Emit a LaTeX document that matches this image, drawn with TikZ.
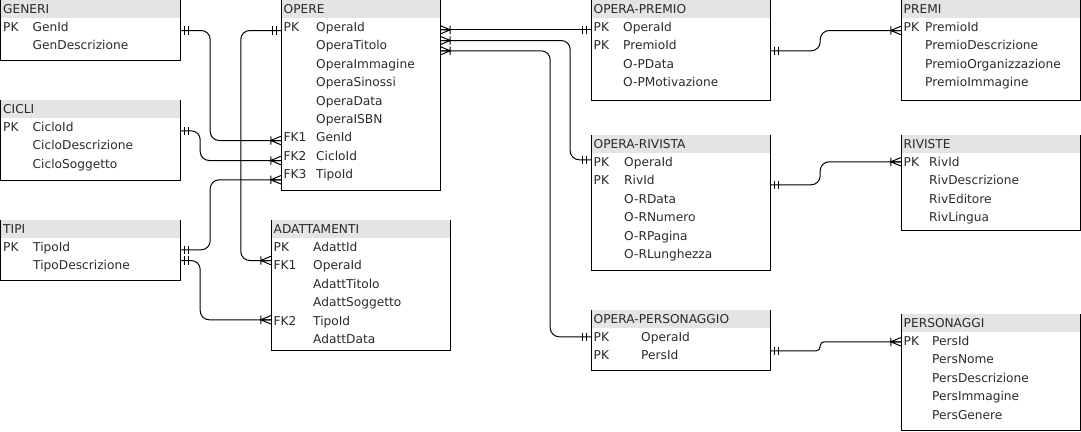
\documentclass[tikz,border=0pt]{standalone}
\usepackage{fontspec}
\setmainfont{DejaVu Sans}
\usetikzlibrary{calc,fit}
\definecolor{hdr}{HTML}{E4E4E4}
\definecolor{txt}{HTML}{2A2A2A}
\tikzset{
  tabline/.style={line width=1pt, draw=black},
  conn/.style={line width=1pt, draw=black},
  rowtext/.style={anchor=west, inner sep=0pt, text height=8.9pt, text depth=0pt, text=txt,
     font=\fontsize{12.2}{14}\selectfont},
  mone/.pic={\draw[conn] (4,-4.2)--(4,4.2) (8,-4.2)--(8,4.2);},
  mmany/.pic={\draw[conn] (10,-4.2)--(10,4.2) (0,-4.2)--(10,0)--(0,4.2) (0,0)--(10,0);},
}
% #1 name, #2 left, #3 top, #4 right, #5 bottom, #6 title, #7 field offset, #8 rows
\newcommand{\ertab}[8]{%
  \path (#2,#3) coordinate (#1-nw) (#4,#5) coordinate (#1-se);
  \node[fit=(#1-nw)(#1-se), inner sep=0pt] (#1) {};
  \fill[hdr] (#1-nw) rectangle ($(#1-nw -| #1-se)+(0,18)$);
  \draw[tabline] (#1-nw) |- (#1-se) -- (#1-nw -| #1-se);
  \node[rowtext] (#1-h) at ($(#1-nw)+(2.5,9)$) {#6};
  \foreach \k/\f [count=\i from 0] in {#8} {
    \node[rowtext] (#1-k\i) at ($(#1-nw)+(2.5,{27+18.4*\i})$) {\k};
    \node[rowtext] (#1-f\i) at ($(#1-nw)+(#7,{27+18.4*\i})$) {\f};
  }
}
\begin{document}
\begin{tikzpicture}[x=1pt,y=-1pt]
\useasboundingbox (0,0) rectangle (1081,431);
\ertab{generi}{0.5}{0}{180}{60}{GENERI}{32}{PK/GenId, /GenDescrizione}
\ertab{cicli}{0.5}{100}{180}{180}{CICLI}{32}{PK/CicloId, /CicloDescrizione, /CicloSoggetto}
\ertab{tipi}{0.5}{220}{180}{280}{TIPI}{32.5}{PK/TipoId, /TipoDescrizione}
\ertab{opere}{281}{0}{440}{190}{OPERE}{35}{PK/OperaId, /OperaTitolo, /OperaImmagine, /OperaSinossi, /OperaData, /OperaISBN, FK1/GenId, FK2/CicloId, FK3/TipoId}
\ertab{adatt}{271}{220}{450}{350}{ADATTAMENTI}{42}{PK/AdattId, FK1/OperaId, /AdattTitolo, /AdattSoggetto, FK2/TipoId, /AdattData}
\ertab{opremio}{591}{0}{770}{100}{OPERA-PREMIO}{32}{PK/OperaId, PK/PremioId, /O-PData, /O-PMotivazione}
\ertab{oriv}{591}{135}{770}{270}{OPERA-RIVISTA}{33}{PK/OperaId, PK/RivId, /O-RData, /O-RNumero, /O-RPagina, /O-RLunghezza}
\ertab{opers}{591}{310}{770}{370}{OPERA-PERSONAGGIO}{50}{PK/OperaId, PK/PersId}
\ertab{premi}{901}{0}{1080.5}{100}{PREMI}{24}{PK/PremioId, /PremioDescrizione, /PremioOrganizzazione, /PremioImmagine}
\ertab{riviste}{901}{135}{1080.5}{230}{RIVISTE}{28}{PK/RivId, /RivDescrizione, /RivEditore, /RivLingua}
\ertab{pers}{901}{314}{1080.5}{430}{PERSONAGGI}{31}{PK/PersId, /PersNome, /PersDescrizione, /PersImmagine, /PersGenere}
% endpoints
\coordinate (c1a) at ($(generi.north east)+(0,30.7)$);
\coordinate (c1b) at ($(opere.north west)+(0,140.7)$);
\coordinate (c2a) at ($(cicli.north east)+(0,31)$);
\coordinate (c2b) at ($(opere.north west)+(0,160.7)$);
\coordinate (c3a) at ($(tipi.north east)+(0,30)$);
\coordinate (c3b) at ($(opere.north west)+(0,180)$);
\coordinate (c4a) at ($(tipi.north east)+(0,40.7)$);
\coordinate (c4b) at ($(adatt.north west)+(0,100)$);
\coordinate (c5a) at ($(opere.north west)+(0,30.7)$);
\coordinate (c5b) at ($(adatt.north west)+(0,40.7)$);
\coordinate (c6a) at ($(opere.north east)+(0,30)$);
\coordinate (c6b) at ($(opremio.north west)+(0,30)$);
\coordinate (c7a) at ($(opere.north east)+(0,40.7)$);
\coordinate (c7b) at ($(oriv.north west)+(0,25)$);
\coordinate (c8a) at ($(opere.north east)+(0,51)$);
\coordinate (c8b) at ($(opers.north west)+(0,27)$);
\coordinate (c9a) at ($(opremio.north east)+(0,51)$);
\coordinate (c9b) at ($(premi.north west)+(0,30.7)$);
\coordinate (c10a) at ($(oriv.north east)+(0,50)$);
\coordinate (c10b) at ($(riviste.north west)+(0,27)$);
\coordinate (c11a) at ($(opers.north east)+(0,41)$);
\coordinate (c11b) at ($(pers.north west)+(0,28)$);
% connectors
\draw[conn, rounded corners=9pt] (c1a) -- ++(30,0) |- (c1b);
\draw[conn, rounded corners=9pt] (c2a) -- ++(20,0) |- (c2b);
\draw[conn, rounded corners=9pt] (c3a) -- ++(30,0) |- (c3b);
\draw[conn, rounded corners=9pt] (c4a) -- ++(20,0) |- (c4b);
\draw[conn, rounded corners=9pt] (c5a) -- ++(-40,0) |- (c5b);
\draw[conn] (c6a) -- (c6b);
\draw[conn, rounded corners=9pt] (c7a) -- ++(130,0) |- (c7b);
\draw[conn, rounded corners=9pt] (c8a) -- ++(110,0) |- (c8b);
\draw[conn, rounded corners=9pt] (c9a) -- ++(50,0) |- (c9b);
\draw[conn, rounded corners=9pt] (c10a) -- ++(50,0) |- (c10b);
\draw[conn, rounded corners=4pt] (c11a) -- ++(50,0) |- (c11b);
% marks
\path (c1a) pic {mone};  \path (c1b) pic[xscale=-1] {mmany};
\path (c2a) pic {mone};  \path (c2b) pic[xscale=-1] {mmany};
\path (c3a) pic {mone};  \path (c3b) pic[xscale=-1] {mmany};
\path (c4a) pic {mone};  \path (c4b) pic[xscale=-1] {mmany};
\path (c5a) pic[xscale=-1] {mone};  \path (c5b) pic[xscale=-1] {mmany};
\path (c6a) pic {mmany}; \path (c6b) pic[xscale=-1] {mone};
\path (c7a) pic {mmany}; \path (c7b) pic[xscale=-1] {mone};
\path (c8a) pic {mmany}; \path (c8b) pic[xscale=-1] {mone};
\path (c9a) pic {mone};  \path (c9b) pic[xscale=-1] {mmany};
\path (c10a) pic {mone}; \path (c10b) pic[xscale=-1] {mmany};
\path (c11a) pic {mone}; \path (c11b) pic[xscale=-1] {mmany};
\end{tikzpicture}
\end{document}
